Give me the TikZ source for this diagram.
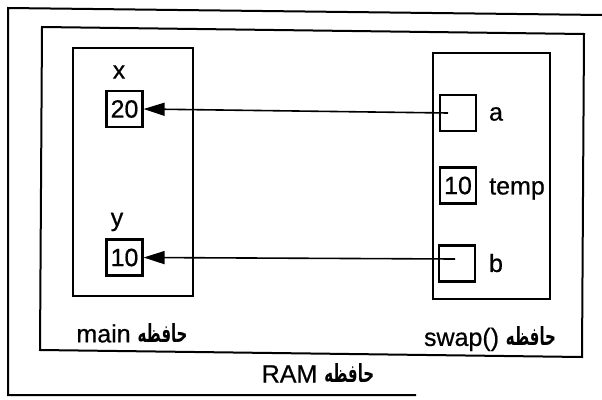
\documentclass[tikz,border=0pt]{standalone}
\usepackage{fontspec}
\setmainfont{Liberation Sans}[UprightFeatures={FakeBold=0.6}]
\newfontfamily\fa[Script=Arabic, FakeStretch=0.6]{DejaVu Sans}
\TeXXeTstate=1
\usetikzlibrary{arrows.meta}
\begin{document}
\begin{tikzpicture}[x=1pt,y=-1pt,
  frame/.style={line width=2pt, line join=miter},
  membox/.style={draw, line width=2.2pt, minimum width=120pt, inner sep=0pt},
  cell/.style={draw, line width=2.2pt, minimum width=36pt, minimum height=36pt, inner sep=0pt, font=\fontsize{25}{28}\selectfont},
  lbl/.style={inner sep=0pt, font=\fontsize{25}{28}\selectfont},
  captext/.style={inner sep=0pt, font=\fontsize{25}{28}\selectfont},
  ptr/.style={line width=1.6pt, -{Triangle[length=21pt,width=13pt]}}
]
\useasboundingbox (0,0) rectangle (602,399);
% outer page frame
\draw[frame] (602,15) -- (8,8) -- (8,395) -- (416,395);
% RAM frame
\draw[frame] (42,27) -- (584,34) -- (582,357) -- (40,350) -- cycle;
% memory areas
\node[membox, minimum height=248pt] (mainmem) at (133,172) {};
\node[membox, minimum width=117pt, minimum height=246pt] (swapmem) at (491.5,176) {};
% cells
\node[cell] (xbox) at (124.5,109) {20};
\node[cell] (ybox) at (124.5,257.5) {10};
\node[cell] (abox) at (458,113) {};
\node[cell] (tbox) at (458,185.5) {10};
\node[cell] (bbox) at (457,263.5) {};
% labels
\node[lbl] (xl) at (119,72) {x};
\node[lbl] (yl) at (117,222) {y};
\node[lbl] (al) at (496,114) {a};
\node[lbl] (tl) at (517,189) {temp};
\node[lbl] (bl) at (496,263) {b};
% captions
\newcommand\faword{{\fa\bfseries\fontsize{25}{28}\selectfont\beginR حافظه\endR}}
\node[captext] (maincap) at (132,333) {main \faword};
\node[captext] (swapcap) at (490,339) {swap() \faword};
\node[captext] (ramcap) at (318,373) {RAM \faword};
% pointers
\coordinate (astart) at (448,113);
\coordinate (bstart) at (455,259);
\draw[ptr] (astart) -- (xbox.east);
\draw[ptr] (bstart) -- (ybox.east);
\end{tikzpicture}
\end{document}
